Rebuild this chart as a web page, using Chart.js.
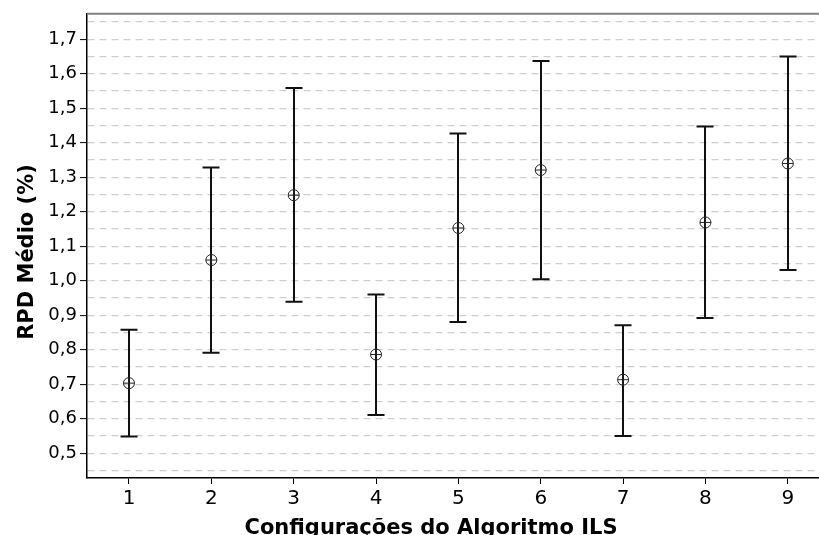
<!DOCTYPE html>
<html>
<head>
<meta charset="utf-8">
<script src="https://cdn.jsdelivr.net/npm/chart.js@4"></script>
<style>
  html, body { margin: 0; padding: 0; background: #fff; overflow: hidden; }
  #clip { width: 819px; height: 535px; overflow: hidden; }
  #wrap { width: 826px; height: 535px; position: relative; }
</style>
</head>
<body>
<div id="clip"><div id="wrap"><canvas id="chart"></canvas></div></div>
<script>
/* ── Data ─────────────────────────────────────────────── */
const configs  = [1, 2, 3, 4, 5, 6, 7, 8, 9];
const meanRPD  = [0.703, 1.060, 1.248, 0.786, 1.153, 1.321, 0.713, 1.169, 1.340];
const lowerCI  = [0.548, 0.791, 0.939, 0.611, 0.880, 1.004, 0.550, 0.892, 1.031];
const upperCI  = [0.858, 1.328, 1.559, 0.960, 1.427, 1.637, 0.871, 1.447, 1.650];
const yTicks   = [0.45, 0.5, 0.55, 0.6, 0.65, 0.7, 0.75, 0.8, 0.85, 0.9, 0.95, 1.0, 1.05,
                  1.1, 1.15, 1.2, 1.25, 1.3, 1.35, 1.4, 1.45, 1.5, 1.55, 1.6, 1.65, 1.7, 1.75];
const xTitle   = 'Configurações do Algoritmo ILS';
const yTitle   = 'RPD Médio (%)';

const FONT = "'DejaVu Sans', Verdana, sans-serif";
const isMajor = v => Math.round(v * 100) % 10 === 0;

/* ── Error bars (drawn through the scales) ─────────────── */
const errorBars = {
  id: 'errorBars',
  beforeDatasetsDraw(chart) {
    const { ctx, scales: { x, y } } = chart;
    ctx.save();
    ctx.strokeStyle = '#111';
    ctx.lineWidth = 2;
    configs.forEach((c, i) => {
      const px = Math.round(x.getPixelForValue(c));
      const lo = y.getPixelForValue(lowerCI[i]);
      const hi = y.getPixelForValue(upperCI[i]);
      ctx.beginPath();
      ctx.moveTo(px, lo); ctx.lineTo(px, hi);
      ctx.moveTo(px - 8.5, lo); ctx.lineTo(px + 8.5, lo);
      ctx.moveTo(px - 8.5, hi); ctx.lineTo(px + 8.5, hi);
      ctx.stroke();
    });
    ctx.restore();
  }
};

/* ── Frame top line + axis titles ──────────────────────── */
const frame = {
  id: 'frame',
  afterDraw(chart) {
    const { ctx, chartArea: a } = chart;
    ctx.save();
    ctx.strokeStyle = '#808080';
    ctx.lineWidth = 2;
    ctx.beginPath();
    ctx.moveTo(a.left, a.top); ctx.lineTo(chart.width, a.top);
    ctx.stroke();

    ctx.fillStyle = '#000';
    ctx.font = 'bold 21px ' + FONT;
    ctx.textAlign = 'center';
    ctx.textBaseline = 'alphabetic';
    ctx.fillText(xTitle, 431, 534);

    ctx.translate(33, 252);
    ctx.rotate(-Math.PI / 2);
    ctx.fillText(yTitle, 0, 0);
    ctx.restore();
  }
};

const points = configs.map((c, i) => ({ x: c, y: meanRPD[i] }));

new Chart(document.getElementById('chart'), {
  type: 'scatter',
  data: {
    datasets: [
      {
        data: points,
        pointStyle: 'circle',
        radius: 5.5,
        borderColor: '#222',
        backgroundColor: 'rgba(0,0,0,0)',
        borderWidth: 1,
      },
      {
        data: points,
        pointStyle: 'cross',
        radius: 5.5,
        borderColor: '#222',
        borderWidth: 1,
      },
    ],
  },
  options: {
    responsive: true,
    maintainAspectRatio: false,
    animation: false,
    layout: { padding: { top: 12, right: 0, left: 0, bottom: 0 } },
    plugins: { legend: { display: false }, tooltip: { enabled: false } },
    scales: {
      x: {
        type: 'linear',
        min: 0.49,
        max: 9.385,
        afterBuildTicks: s => { s.ticks = configs.map(v => ({ value: v })); },
        afterFit: s => { s.height = 57; },
        ticks: { color: '#000', font: { family: FONT, size: 20 }, padding: 3, autoSkip: false, maxRotation: 0 },
        grid: { drawOnChartArea: false, drawTicks: true, tickLength: 6, tickColor: '#000', tickWidth: 1 },
        border: { color: '#000', width: 1.5 },
      },
      y: {
        min: 0.428,
        max: 1.774,
        afterBuildTicks: s => { s.ticks = yTicks.map(v => ({ value: v })); },
        afterFit: s => { s.width = 87; },
        ticks: {
          color: '#000',
          font: { family: FONT, size: 18 },
          padding: 3,
          autoSkip: false,
          callback: v => isMajor(v) ? v.toFixed(1).replace('.', ',') : '',
        },
        grid: {
          color: '#cfcfcf',
          lineWidth: 1.2,
          drawTicks: true,
          tickLength: 7,
          tickWidth: 1,
          tickColor: ctx => (ctx.tick && isMajor(ctx.tick.value)) ? '#000' : 'rgba(0,0,0,0)',
        },
        border: { color: '#000', width: 1.5, dash: [7, 5] },
      },
    },
  },
  plugins: [errorBars, frame],
});
</script>
</body>
</html>
